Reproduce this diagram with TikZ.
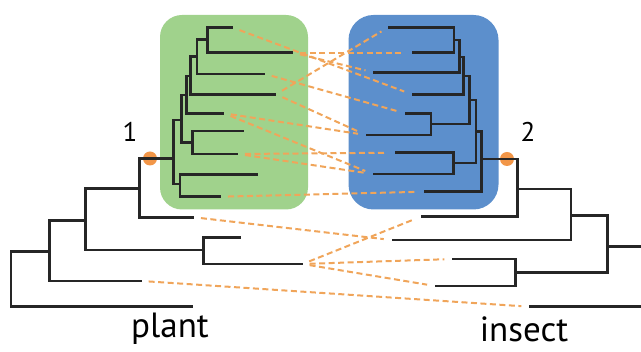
\documentclass[tikz,border=0pt]{standalone}
\usepackage{fontspec}
\setmainfont{PT Sans}

\definecolor{plantgreen}{RGB}{160,210,140}
\definecolor{insectblue}{RGB}{92,143,204}
\definecolor{linkorange}{RGB}{240,165,90}
\definecolor{splitorange}{RGB}{242,150,72}

\tikzset{
  branch/.style={line width=2.8pt, draw=black!85},
  link/.style={line width=2pt, draw=linkorange, dash pattern=on 6pt off 3.5pt,
    shorten <=7pt, shorten >=8pt},
  plantbox/.style={fill=plantgreen, rounded corners=22pt},
  insectbox/.style={fill=insectblue, rounded corners=25pt},
  split/.style={circle, fill=splitorange, inner sep=0pt, minimum size=14pt},
  tag/.style={font=\fontsize{27}{30}\selectfont},
  taxon/.style={font=\fontsize{35}{40}\selectfont},
}

\begin{document}
\begin{tikzpicture}[x=1pt, y=-1pt]
    \useasboundingbox (0,0) rectangle (641,352);
    \clip (0,0) rectangle (641,352);

    % clade boxes
    \fill[plantbox] (160,15) rectangle (308,209.5);
    \fill[insectbox] (348.5,15) rectangle (498.5,209.5);

    % split points
    \node[split] (P-split) at (150,158.5) {};
    \node[split] (I-split) at (507,159) {};
    \node[tag] (P-tag) at (130,132) {1};
    \node[tag] (I-tag) at (528,132) {2};


    % plant tree
    % leaf tips
    \coordinate (P1) at (233,27.7);
    \coordinate (P2) at (293,52.7);
    \coordinate (P3) at (265,74);
    \coordinate (P4) at (276,94.3);
    \coordinate (P5) at (224,113.3);
    \coordinate (P6) at (244,131);
    \coordinate (P7) at (238,154);
    \coordinate (P8) at (258,174.5);
    \coordinate (P9) at (221,196.7);
    \coordinate (P10) at (194,217.3);
    \coordinate (P11) at (240.7,237.3);
    \coordinate (P12) at (302.7,264);
    \coordinate (P13) at (141.7,281);
    \coordinate (P14) at (193.3,306.7);
    % inner nodes
    \coordinate (P-a) at (207.5,39.5);
    \coordinate (P-b) at (197,56.7);
    \coordinate (P-c) at (190.5,76);
    \coordinate (P-d) at (186.5,95);
    \coordinate (P-e) at (181.5,120);
    \coordinate (P-f) at (192.7,142.7);
    \coordinate (P-g) at (173.3,158.5);
    \coordinate (P-h) at (180,184);
    \coordinate (P-i) at (139.3,188.3);
    \coordinate (P-j) at (85.3,220.7);
    \coordinate (P-k) at (203.3,250);
    \coordinate (P-l) at (49.3,251.7);
    \coordinate (P-m) at (11,279);
    \draw[branch] (P-a) |- (P1) (P-a) |- (P2);
    \draw[branch] (P-b) |- (P-a) (P-b) |- (P3);
    \draw[branch] (P-c) |- (P-b) (P-c) |- (P4);
    \draw[branch] (P-d) |- (P-c) (P-d) |- (P5);
    \draw[branch] (P-e) |- (P-d) (P-e) |- (P-f);
    \draw[branch] (P-f) |- (P6) (P-f) |- (P7);
    \draw[branch] (P-g) |- (P-e) (P-g) |- (P-h);
    \draw[branch] (P-h) |- (P8) (P-h) |- (P9);
    \draw[branch] (P-i) |- (P-g) (P-i) |- (P10);
    \draw[branch] (P-j) |- (P-i) (P-j) |- (P-k);
    \draw[branch] (P-k) |- (P11) (P-k) |- (P12);
    \draw[branch] (P-l) |- (P-j) (P-l) |- (P13);
    \draw[branch] (P-m) |- (P-l) (P-m) |- (P14);


    % insect tree
    % leaf tips
    \coordinate (I1) at (388.3,27.3);
    \coordinate (I2) at (411.7,52.7);
    \coordinate (I3) at (373.3,72.3);
    \coordinate (I4) at (411.7,94.3);
    \coordinate (I5) at (405,113.3);
    \coordinate (I6) at (366,135);
    \coordinate (I7) at (395,152.7);
    \coordinate (I8) at (372.7,174);
    \coordinate (I9) at (424.3,191.7);
    \coordinate (I10) at (420.7,216.7);
    \coordinate (I11) at (391.7,240);
    \coordinate (I12) at (452.3,259);
    \coordinate (I13) at (435,286);
    \coordinate (I14) at (529.3,306.7);
    % inner nodes
    \coordinate (I-a) at (454,40);
    \coordinate (I-b) at (459.3,57);
    \coordinate (I-c) at (463.5,76);
    \coordinate (I-d) at (469.5,100);
    \coordinate (I-e) at (431,124);
    \coordinate (I-f) at (476,131.5);
    \coordinate (I-g) at (453.5,163);
    \coordinate (I-h) at (481.7,159);
    \coordinate (I-i) at (517.7,189);
    \coordinate (I-j) at (571,215.7);
    \coordinate (I-k) at (607.3,246.7);
    \coordinate (I-l) at (515.7,272.7);
    \coordinate (I-m) at (660,277);
    \draw[branch] (I-a) |- (I1) (I-a) |- (I2);
    \draw[branch] (I-b) |- (I-a) (I-b) |- (I3);
    \draw[branch] (I-c) |- (I-b) (I-c) |- (I4);
    \draw[branch] (I-d) |- (I-c) (I-d) |- (I-e);
    \draw[branch] (I-e) |- (I5) (I-e) |- (I6);
    \draw[branch] (I-f) |- (I-d) (I-f) |- (I-g);
    \draw[branch] (I-g) |- (I7) (I-g) |- (I8);
    \draw[branch] (I-h) |- (I-f) (I-h) |- (I9);
    \draw[branch] (I-i) |- (I-h) (I-i) |- (I10);
    \draw[branch] (I-j) |- (I-i) (I-j) |- (I11);
    \draw[branch] (I-k) |- (I-j) (I-k) |- (I-l);
    \draw[branch] (I-l) |- (I12) (I-l) |- (I13);
    \draw[branch] (I-m) |- (I-k) (I-m) |- (I14);


    % associations
    \draw[link] (P1) -- (I4);
    \draw[link] (P2) -- (I2);
    \draw[link] (P2) -- (I3);
    \draw[link] (P3) -- (I5);
    \draw[link] (P4) -- (I1);
    \draw[link] (P4) -- (I6);
    \draw[link] (P5) -- (I6);
    \draw[link] (P5) -- (I8);
    \draw[link] (P7) -- (I7);
    \draw[link] (P7) -- (I8);
    \draw[link] (P9) -- (I9);
    \draw[link] (P10) -- (I11);
    \draw[link] (P12) -- (I10);
    \draw[link] (P12) -- (I12);
    \draw[link] (P12) -- (I13);
    \draw[link] (P13) -- (I14);

    % taxa
    \node[taxon] (plant) at (170,329) {plant};
    \node[taxon] (insect) at (524,329) {insect};

\end{tikzpicture}
\end{document}
